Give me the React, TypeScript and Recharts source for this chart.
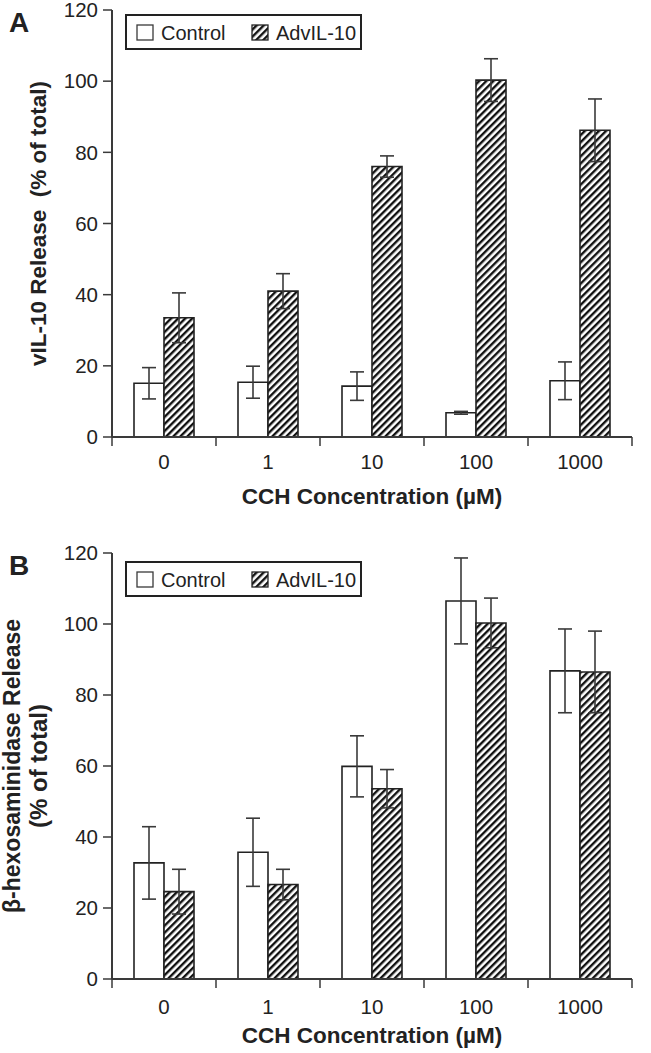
import React from "react";
import { BarChart, Bar, XAxis, YAxis, ErrorBar, Legend } from "recharts";

// CCH concentration (µM)
const categories = ["0", "1", "10", "100", "1000"];
const yTicks = [0, 20, 40, 60, 80, 100, 120];

// Panel A: vIL-10 release (% of total)
const vilControl = [15.1, 15.4, 14.3, 6.8, 15.8];
const vilControlErr = [4.4, 4.5, 4.0, 0.4, 5.3];
const vilAdv = [33.5, 41.0, 76.0, 100.3, 86.2];
const vilAdvErr = [7.0, 4.9, 3.0, 6.0, 8.8];

// Panel B: beta-hexosaminidase release (% of total)
const hexControl = [32.7, 35.7, 59.9, 106.5, 86.8];
const hexControlErr = [10.2, 9.6, 8.6, 12.1, 11.8];
const hexAdv = [24.6, 26.6, 53.6, 100.3, 86.5];
const hexAdvErr = [6.3, 4.3, 5.4, 7.0, 11.5];

const FONT = "'Liberation Sans', Arial, Helvetica, sans-serif";
const INK = "#222";
const LINE = "#3a3a3a";

function buildRows(ctrl: number[], ctrlErr: number[], adv: number[], advErr: number[]) {
  return categories.map((c, i) => ({
    conc: c,
    control: ctrl[i],
    controlErr: ctrlErr[i],
    adv: adv[i],
    advErr: advErr[i],
  }));
}

const dataA = buildRows(vilControl, vilControlErr, vilAdv, vilAdvErr);
const dataB = buildRows(hexControl, hexControlErr, hexAdv, hexAdvErr);

function HatchDef({ id }: { id: string }) {
  return (
    <pattern id={id} patternUnits="userSpaceOnUse" width={5} height={5} patternTransform="rotate(45)">
      <rect x={0} y={0} width={5} height={5} fill="#fff" />
      <rect x={0} y={0} width={2.4} height={5} fill="#111" />
    </pattern>
  );
}

// boundary ticks between categories, labels centred
// eslint-disable-next-line @typescript-eslint/no-explicit-any
function CatTick(props: any) {
  const { x, y, payload, index, labelDy } = props;
  const off = payload?.offset ?? 52;
  return (
    <g>
      <line x1={x - off} x2={x - off} y1={y} y2={y + 9} stroke={LINE} strokeWidth={1.5} />
      {index === categories.length - 1 && (
        <line x1={x + off} x2={x + off} y1={y} y2={y + 9} stroke={LINE} strokeWidth={1.5} />
      )}
      <text x={x} y={y + labelDy} textAnchor="middle" fontSize={20.5} fill={INK} fontFamily={FONT}>
        {payload.value}
      </text>
    </g>
  );
}

function LegendBox({ hatchId }: { hatchId: string }) {
  return (
    <svg width={240} height={38} style={{ display: "block" }}>
      <defs>
        <HatchDef id={hatchId} />
      </defs>
      <rect x={1} y={1} width={235} height={34} fill="#fff" stroke={INK} strokeWidth={2} />
      <rect x={12} y={11} width={16} height={15} fill="#fff" stroke={LINE} strokeWidth={1.3} />
      <text x={36} y={26} fontSize={20} fill={INK} fontFamily={FONT}>Control</text>
      <rect x={127} y={11} width={16} height={15} fill={`url(#${hatchId})`} stroke={INK} strokeWidth={1.3} />
      <text x={151} y={26} fontSize={20} fill={INK} fontFamily={FONT}>AdvIL-10</text>
    </svg>
  );
}

interface PanelProps {
  data: ReturnType<typeof buildRows>;
  id: string;
  letter: string;
  top: number;
  height: number;
  plotTop: number;
  marginBottom: number;
  labelDy: number;
  titleDy: number;
  legendTop: number;
  yTitle: (vb: { x: number; y: number; width: number; height: number }) => React.ReactNode;
}

function Panel(p: PanelProps) {
  const hatch = `hatch-${p.id}`;
  return (
    <div style={{ position: "absolute", left: 0, top: p.top, width: 651, height: p.height }}>
      <BarChart
        width={651}
        height={p.height}
        data={p.data}
        margin={{ top: p.plotTop, right: 19, bottom: p.marginBottom, left: 52 }}
        barGap={0}
        barSize={30}
      >
        <defs>
          <HatchDef id={hatch} />
        </defs>
        <XAxis
          dataKey="conc"
          height={60}
          interval={0}
          tickLine={false}
          tickSize={0}
          tickMargin={0}
          axisLine={{ stroke: LINE, strokeWidth: 2 }}
          tick={(tp: any) => <CatTick {...tp} labelDy={p.labelDy} />}
          label={{
            content: ({ viewBox }: any) => (
              <text
                x={viewBox.x + viewBox.width / 2}
                y={viewBox.y + p.titleDy}
                textAnchor="middle"
                fontSize={22.5}
                fontWeight="bold"
                fill={INK}
                fontFamily={FONT}
              >
                CCH Concentration (µM)
              </text>
            ),
          }}
        />
        <YAxis
          width={60}
          domain={[0, 120]}
          ticks={yTicks}
          interval={0}
          tickSize={9}
          tickMargin={5}
          axisLine={{ stroke: LINE, strokeWidth: 2 }}
          tickLine={{ stroke: LINE, strokeWidth: 1.5 }}
          tick={{ fontSize: 20.5, fill: INK, fontFamily: FONT }}
          label={{
            content: ({ viewBox }: any) => (
              <g>
                <text x={9} y={p.plotTop + 22} fontSize={28} fontWeight="bold" fill={INK} fontFamily={FONT}>
                  {p.letter}
                </text>
                {p.yTitle(viewBox)}
              </g>
            ),
          }}
        />
        <Legend
          layout="horizontal"
          verticalAlign="middle"
          align="center"
          wrapperStyle={{ left: 125, top: p.legendTop, width: "auto", height: "auto" }}
          content={() => <LegendBox hatchId={`leg-${hatch}`} />}
        />
        <Bar dataKey="control" name="Control" fill="#fff" stroke={INK} strokeWidth={1.6} isAnimationActive={false}>
          <ErrorBar dataKey="controlErr" width={7} stroke={LINE} strokeWidth={1.6} isAnimationActive={false} />
        </Bar>
        <Bar dataKey="adv" name="AdvIL-10" fill={`url(#${hatch})`} stroke={INK} strokeWidth={1.6} isAnimationActive={false}>
          <ErrorBar dataKey="advErr" width={7} stroke={LINE} strokeWidth={1.6} isAnimationActive={false} />
        </Bar>
      </BarChart>
    </div>
  );
}

export default function App() {
  return (
    <div style={{ position: "absolute", left: 0, top: 0, width: 651, height: 1053, background: "#fff", fontFamily: FONT }}>
      <Panel
        data={dataA}
        id="a"
        letter="A"
        top={0}
        height={520}
        plotTop={10}
        marginBottom={23}
        labelDy={32}
        titleDy={67}
        legendTop={14}
        yTitle={(vb) => (
          <text
            transform={`translate(46, ${vb.y + vb.height / 2}) rotate(-90)`}
            textAnchor="middle"
            fontSize={22.5}
            fontWeight="bold"
            fill={INK}
            fontFamily={FONT}
            style={{ whiteSpace: "pre" }}
          >
            {"vIL-10 Release  (% of total)"}
          </text>
        )}
      />
      <Panel
        data={dataB}
        id="b"
        letter="B"
        top={530}
        height={523}
        plotTop={23}
        marginBottom={14}
        labelDy={35}
        titleDy={64}
        legendTop={31}
        yTitle={(vb) => (
          <g transform={`translate(0, ${vb.y + vb.height / 2}) rotate(-90)`}>
            <text x={0} y={20} textAnchor="middle" fontSize={23} fontWeight="bold" fill={INK} fontFamily={FONT}>
              β-hexosaminidase Release
            </text>
            <text x={0} y={47} textAnchor="middle" fontSize={24} fontWeight="bold" fill={INK} fontFamily={FONT}>
              (% of total)
            </text>
          </g>
        )}
      />
    </div>
  );
}
